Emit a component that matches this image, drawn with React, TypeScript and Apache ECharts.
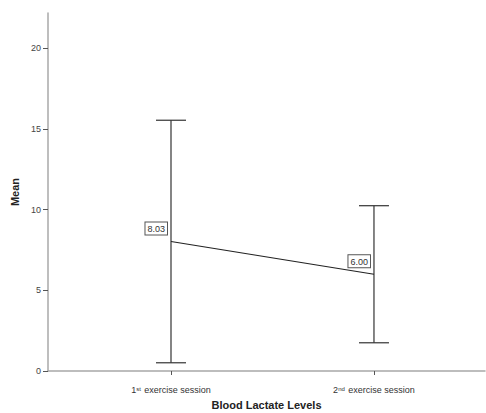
import React, { useEffect, useRef } from "react";
import * as echarts from "echarts";

const categories = ["1st exercise session", "2nd exercise session"];
const catMain = ["1", "2"];
const catSup = ["st", "nd"];
const catRest = [" exercise session", " exercise session"];
const means = [8.03, 6.0];
const lower = [0.51, 1.75];
const upper = [15.55, 10.25];
const yTicks = [0, 5, 10, 15, 20];

export default function App() {
  const ref = useRef<HTMLDivElement>(null);
  useEffect(() => {
    if (!ref.current) return;
    const chart = echarts.init(ref.current, null, { renderer: "svg" });
    const font = "'Liberation Sans', Arial, sans-serif";
    const idx = categories.map((_, i) => i);
    chart.setOption({
      animation: false,
      backgroundColor: "#ffffff",
      grid: { left: 48, right: 1, top: 13, bottom: 42, containLabel: false, outerBoundsMode: "none" },
      xAxis: {
        type: "value",
        min: -0.606,
        max: 1.547,
        name: "Blood Lactate Levels",
        nameLocation: "middle",
        nameGap: 27,
        nameTextStyle: { fontFamily: font, fontSize: 11, fontWeight: "bold", color: "#222" },
        axisLine: { show: true, onZero: false, lineStyle: { color: "#a8a8a8", width: 1.5 } },
        axisTick: { show: true, customValues: idx, length: 4, lineStyle: { color: "#555" } },
        splitLine: { show: false },
        axisLabel: {
          customValues: idx,
          margin: 13,
          formatter: (v: number) => {
            const i = Math.round(v);
            return `{n|${catMain[i]}}{s|${catSup[i]}}{n|${catRest[i]}}`;
          },
          rich: {
            n: { fontFamily: font, fontSize: 9, color: "#333", lineHeight: 12 },
            s: { fontFamily: font, fontSize: 6, color: "#333", lineHeight: 12, padding: [0, 1, 2, 0] },
          },
        },
      },
      yAxis: {
        type: "value",
        min: 0,
        max: 22.2,
        interval: 5,
        name: "Mean",
        nameLocation: "middle",
        nameGap: 25,
        nameTextStyle: { fontFamily: font, fontSize: 11, fontWeight: "bold", color: "#222" },
        axisLine: { show: true, onZero: false, lineStyle: { color: "#a8a8a8", width: 1.5 } },
        axisTick: { show: true, customValues: yTicks, length: 5, lineStyle: { color: "#555" } },
        splitLine: { show: false },
        axisLabel: { customValues: yTicks, margin: 7, fontFamily: font, fontSize: 9, color: "#444" },
      },
      series: [
        {
          type: "line",
          data: idx.map((i) => [i, means[i]]),
          symbol: "none",
          lineStyle: { color: "#222", width: 1.2 },
          z: 3,
        },
        {
          type: "custom",
          data: idx.map((i) => [i, lower[i], upper[i], means[i]]),
          renderItem: (params: any, api: any) => {
            const x = api.value(0);
            const lo = api.coord([x, api.value(1)]);
            const hi = api.coord([x, api.value(2)]);
            const cap = 15;
            const st = { stroke: "#333", lineWidth: 1.2 };
            return {
              type: "group",
              children: [
                { type: "line", shape: { x1: lo[0], y1: lo[1], x2: hi[0], y2: hi[1] }, style: st },
                { type: "line", shape: { x1: hi[0] - cap, y1: hi[1], x2: hi[0] + cap, y2: hi[1] }, style: st },
                { type: "line", shape: { x1: lo[0] - cap, y1: lo[1], x2: lo[0] + cap, y2: lo[1] }, style: st },
              ],
            };
          },
          z: 2,
        },
        {
          type: "custom",
          data: idx.map((i) => [i, means[i]]),
          renderItem: (params: any, api: any) => {
            const p = api.coord([api.value(0), api.value(1)]);
            return {
              type: "text",
              x: p[0] - 4,
              y: p[1] - 7,
              style: {
                text: api.value(1).toFixed(2),
                align: "right",
                verticalAlign: "bottom",
                fontFamily: font,
                fontSize: 9,
                fill: "#333",
                backgroundColor: "#fff",
                borderColor: "#555",
                borderWidth: 1,
                padding: [2, 2, 1, 2],
              },
            };
          },
          z: 4,
        },
      ],
    });
    return () => chart.dispose();
  }, []);
  return <div ref={ref} style={{ width: 486, height: 413, position: "absolute", left: 0, top: 0 }} />;
}
